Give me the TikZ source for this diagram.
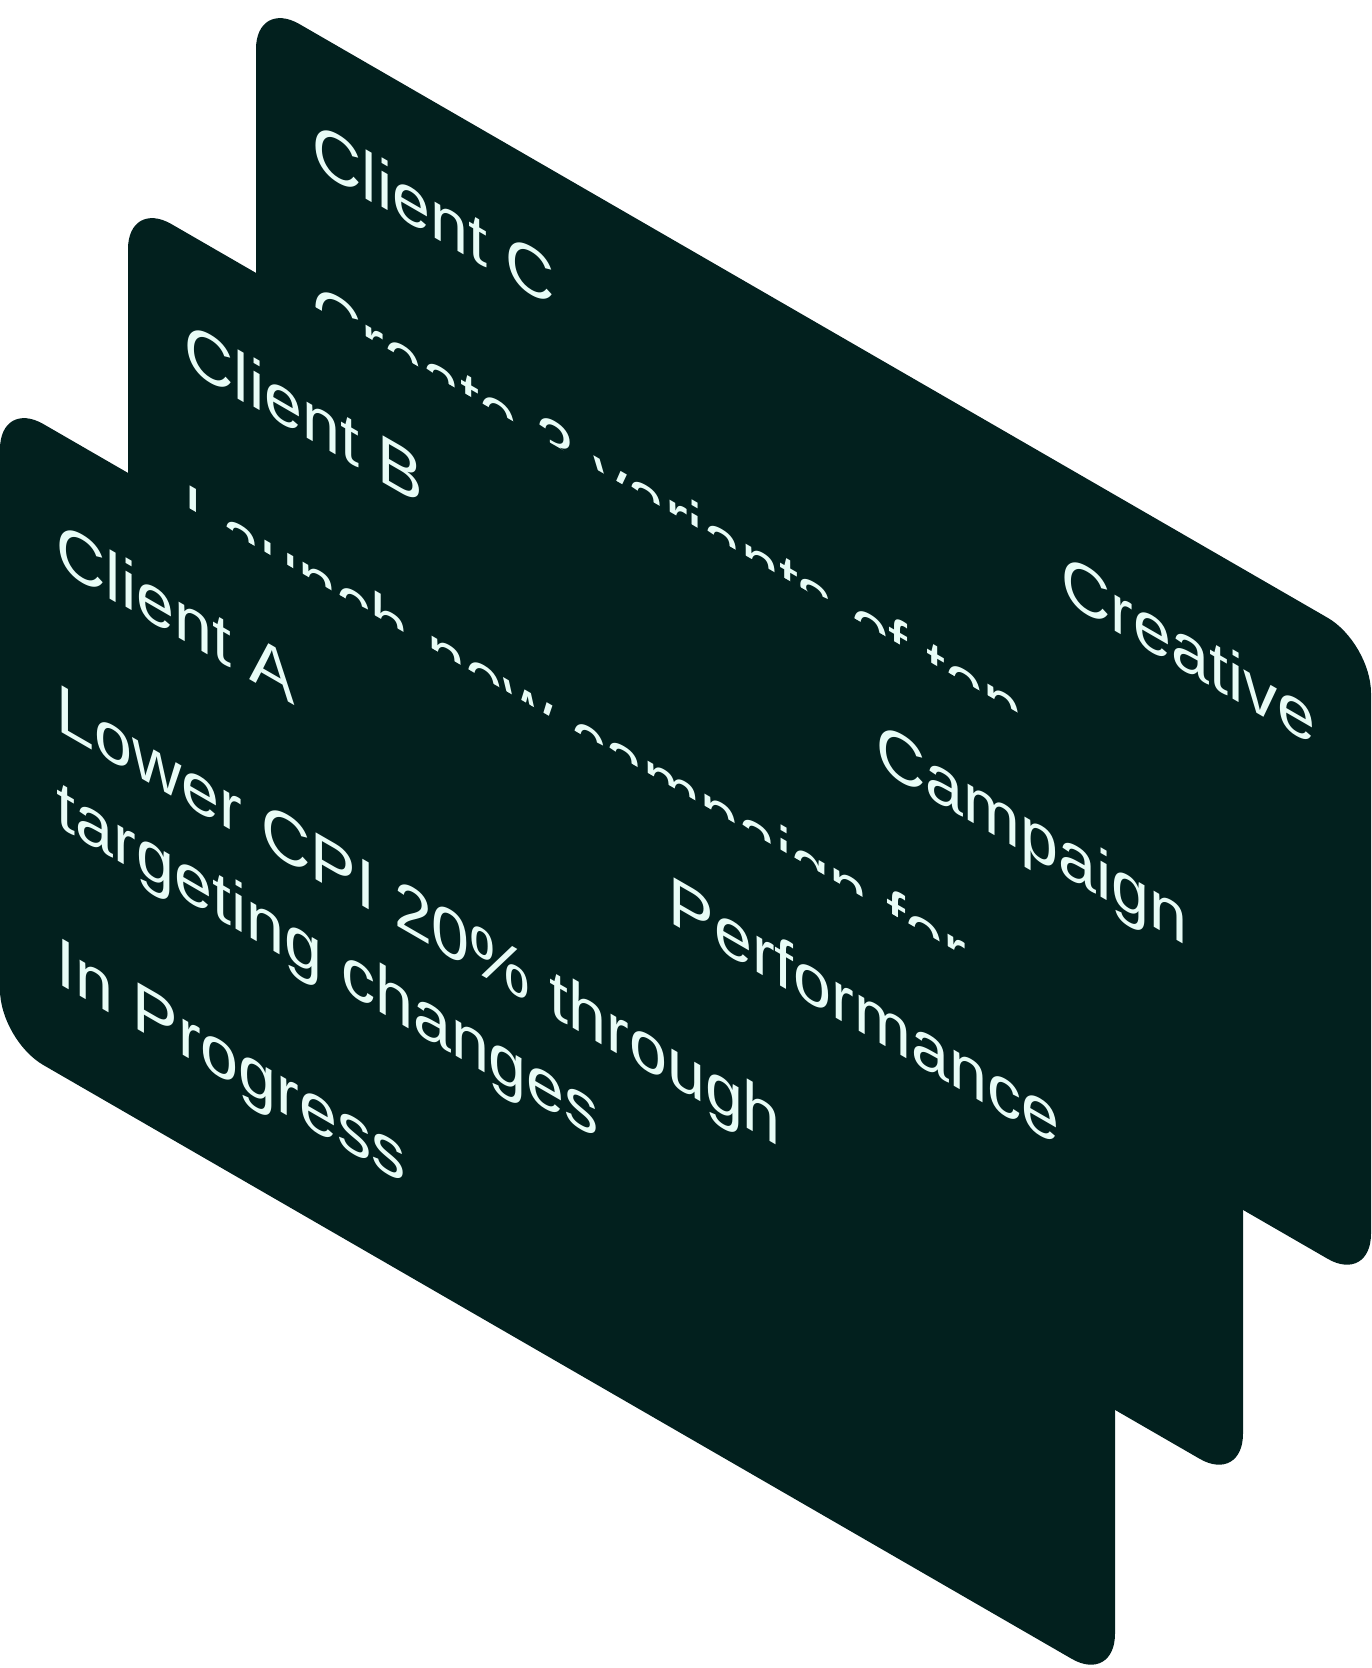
\documentclass[tikz,border=0pt]{standalone}
\usepackage{fontspec}
\setmainfont{Liberation Sans}
\definecolor{cardgreen}{RGB}{2, 32, 30}
\definecolor{mintwhite}{RGB}{232, 252, 246}
\usetikzlibrary{positioning}

\begin{document}
\begin{tikzpicture}[
  x=0.01cm, y=0.01cm,
  card/.style={fill=cardgreen, rounded corners=0.5cm},
  cardtext/.style={text=mintwhite, inner sep=0pt, transform shape, font=\fontsize{19.4pt}{23pt}\selectfont}
]
  \useasboundingbox (0,0) rectangle (1372,-1668);

  % back card
  \begin{scope}[shift={(256,1)}, yslant=-0.5774]
    \fill[card] (0,0) rectangle (1115,-641);
    \node[cardtext, anchor=base west] (clientc) at (56,-136) {Client C};
    \node[cardtext, anchor=base east] (creative) at (1060,-136) {Creative};
    \node[cardtext, anchor=base west] (taskc) at (56,-298) {Create 3 variants of top};
  \end{scope}

  % middle card
  \begin{scope}[shift={(128,-199)}, yslant=-0.5774]
    \fill[card] (0,0) rectangle (1115,-641);
    \node[cardtext, anchor=base west] (clientb) at (56,-136) {Client B};
    \node[cardtext, anchor=base east] (campaign) at (1060,-136) {Campaign};
    \node[cardtext, anchor=base west] (taskb) at (56,-298) {Launch new campaign for};
  \end{scope}

  % front card
  \begin{scope}[shift={(0,-399)}, yslant=-0.5774]
    \fill[card] (0,0) rectangle (1115,-641);
    \node[cardtext, anchor=base west] (clienta) at (56,-136) {Client A};
    \node[cardtext, anchor=base east] (performance) at (1060,-136) {Performance};
    \node[cardtext, anchor=base west] (taska) at (56,-298) {Lower CPI 20\% through};
    \node[cardtext, anchor=base west] (taska2) at (56,-394) {targeting changes};
    \node[cardtext, anchor=base west] (statusa) at (56,-551) {In Progress};
  \end{scope}
\end{tikzpicture}
\end{document}
